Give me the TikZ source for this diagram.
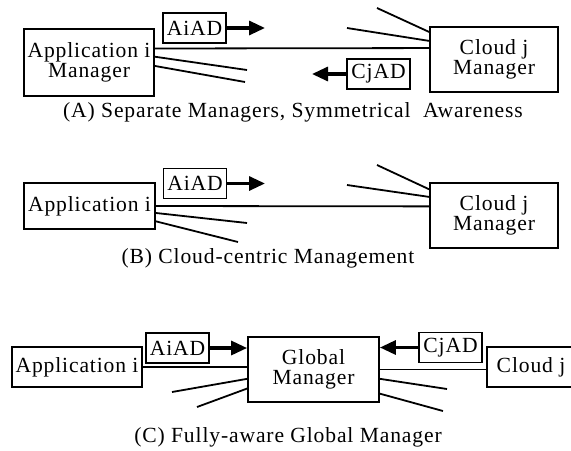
\documentclass[tikz,border=0pt]{standalone}
\usepackage{fontspec}
\setmainfont{Liberation Serif}[LetterSpace=4]
\usetikzlibrary{arrows.meta}

\begin{document}
\begin{tikzpicture}[x=0.5pt, y=-0.5pt,
    >={Triangle[length=8pt,width=7pt]},
    every node/.style={font=\fontsize{10.8}{10.2}\selectfont},
    box/.style={draw, line width=0.9pt, inner sep=0pt, align=center},
    adbox/.style={draw, line width=0.9pt, inner sep=0pt, minimum width=31.5pt, minimum height=15pt},
    link/.style={line width=0.9pt},
    flow/.style={->, line width=1.6pt}]
    \useasboundingbox (0,0) rectangle (571,450);
    \clip (0,0) rectangle (571,450);

    % (A) Separate managers
    \node (appA) at (89,62.5) [box, minimum width=65pt, minimum height=33.5pt] {Application i\\Manager};
    \node (cloudA) at (494,59.5) [box, minimum width=64pt, minimum height=32.5pt] {Cloud j\\Manager};
    \node (aiadA) at (194.5,28) [adbox] {AiAD};
    \node (cjadA) at (378.5,74) [adbox] {CjAD};
    \coordinate (aiadAend) at (265,28);
    \coordinate (cjadAend) at (312,74);
    \coordinate (fanA1) at (247,70);
    \coordinate (fanA2) at (245,82);
    \coordinate (fanA3) at (377,8);
    \coordinate (fanA4) at (347,28);
    \draw[link] (appA.12) -- (cloudA.170);
    \draw[link] (appA.5) -- (fanA1);
    \draw[link] (appA.-3) -- (fanA2);
    \draw[link] (cloudA.157.5) -- (fanA3);
    \draw[link] (cloudA.164.7) -- (fanA4);
    \draw[flow] (aiadA.east) -- (aiadAend);
    \draw[flow] (cjadA.west) -- (cjadAend);
    \node (capA) at (293,112) {(A) Separate Managers, Symmetrical\ \ Awareness};

    % (B) Cloud-centric
    \node (appB) at (89.5,206) [box, minimum width=65.5pt, minimum height=23pt] {Application i};
    \node (cloudB) at (494,215.5) [box, minimum width=64pt, minimum height=32.5pt] {Cloud j\\Manager};
    \node (aiadB) at (195,183.5) [adbox] {AiAD};
    \coordinate (aiadBend) at (265,183.5);
    \coordinate (fanB1) at (247,223);
    \coordinate (fanB2) at (238,242);
    \coordinate (fanB3) at (377,165);
    \coordinate (fanB4) at (347,185);
    \draw[link] (appB.east) -- (cloudB.172.4);
    \draw[link] (appB.-6.1) -- (fanB1);
    \draw[link] (appB.-13.7) -- (fanB2);
    \draw[link] (cloudB.158.3) -- (fanB3);
    \draw[link] (cloudB.164.7) -- (fanB4);
    \draw[flow] (aiadB.east) -- (aiadBend);
    \node (capB) at (268,258) {(B) Cloud-centric Management};

    % (C) Global manager
    \node (appC) at (77,367) [box, minimum width=65pt, minimum height=20pt] {Application i};
    \node (globC) at (313.5,369.5) [box, minimum width=65.5pt, minimum height=32.5pt] {Global\\Manager};
    \node (cloudC) at (531,367) [box, minimum width=44pt, minimum height=20pt] {Cloud j};
    \node (aiadC) at (177.5,348) [adbox] {AiAD};
    \node (cjadC) at (450.5,347.5) [adbox] {CjAD};
    \coordinate (fanC1) at (172,392);
    \coordinate (fanC2) at (197,407);
    \coordinate (fanC3) at (447,389);
    \coordinate (fanC4) at (443,411);
    \draw[link] (appC.east) -- (appC.east -| globC.west);
    \draw[link] (globC.east) -- (globC.east -| cloudC.west);
    \draw[link] (globC.188.3) -- (fanC1);
    \draw[link] (globC.196.6) -- (fanC2);
    \draw[link] (globC.-8.3) -- (fanC3);
    \draw[link] (globC.-20.5) -- (fanC4);
    \draw[flow] (aiadC.east) -- (aiadC.east -| globC.west);
    \draw[flow] (cjadC.west) -- (cjadC.west -| globC.east);
    \node (capC) at (288,437) {(C) Fully-aware Global Manager};
\end{tikzpicture}
\end{document}
